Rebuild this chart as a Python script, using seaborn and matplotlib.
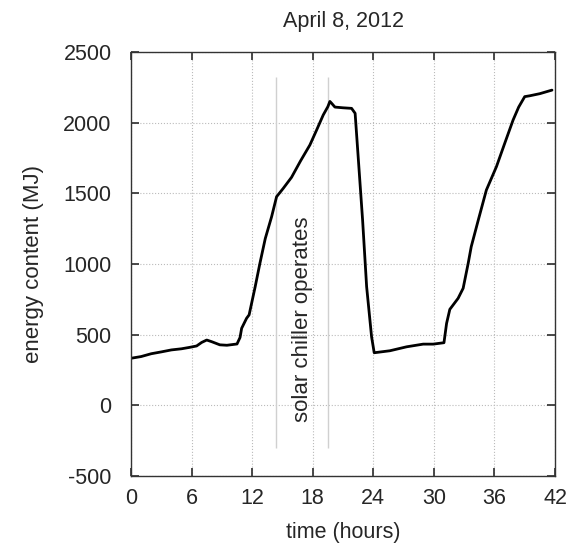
import seaborn as sns
import matplotlib.pyplot as plt
import pandas as pd

# energy content of the storage
time_h = [0.0, 1.0, 2.0, 3.0, 4.0, 5.0, 5.8, 6.5, 7.0, 7.5, 8.0, 8.8, 9.5, 10.5,
          10.8, 10.96, 11.45, 11.7, 12.3, 12.77, 13.3, 13.93, 14.42, 15.08, 15.9,
          16.8, 17.72, 18.4, 19.04, 19.5, 19.7, 19.87, 20.2, 21.0, 21.85, 22.2,
          22.94, 23.34, 23.83, 24.09, 25.64, 27.3, 28.94, 29.93, 31.0, 31.26,
          31.58, 32.4, 32.9, 33.4, 33.7, 34.4, 35.2, 36.2, 37.0, 37.85, 38.4,
          39.0, 39.5, 40.5, 41.5, 41.7]
energy_mj = [333, 345, 365, 378, 392, 400, 410, 420, 445, 462, 450, 428, 425, 434,
             480, 545, 616, 640, 839, 1005, 1180, 1335, 1476, 1535, 1613,
             1730, 1842, 1950, 2054, 2113, 2150, 2137, 2110, 2105, 2101, 2066,
             1311, 839, 485, 372, 386, 414, 433, 433, 443, 580,
             679, 757, 828, 1005, 1122, 1311, 1523, 1689, 1850, 2019, 2110,
             2184, 2190, 2205, 2226, 2230]

chiller_marks = [14.4, 19.5]
mark_low, mark_high = -300, 2320
x_ticks = [0, 6, 12, 18, 24, 30, 36, 42]
y_ticks = [-500, 0, 500, 1000, 1500, 2000, 2500]

sns.set_theme(style="ticks")
plt.rcParams['font.family'] = ['Liberation Sans', 'DejaVu Sans']
plt.rcParams['axes.unicode_minus'] = False

fig = plt.figure(figsize=(5.83, 5.47), dpi=100)
ax = fig.add_axes([0.2247, 0.1298, 0.7273, 0.7752])

df = pd.DataFrame({'time': time_h, 'energy': energy_mj})
ax.vlines(chiller_marks, mark_low, mark_high, color="#d0d0d0", linewidth=1)
sns.lineplot(x="time", y="energy", data=df, color="black", linewidth=2, ax=ax)

ax.text(17.0, 610, "solar chiller operates", rotation=90, ha="center", va="center", fontsize=16)

ax.set_xlim(0, 42)
ax.set_ylim(-500, 2500)
ax.set_xticks(x_ticks)
ax.set_yticks(y_ticks)
ax.grid(True, linestyle=":", color="#bbbbbb", linewidth=0.8)
ax.tick_params(direction="in", top=True, right=True, length=6, labelsize=15.5,
               color="#333333")
ax.tick_params(axis="y", pad=14)
ax.tick_params(axis="x", pad=9)
for s in ax.spines.values():
    s.set_color("#333333")
    s.set_linewidth(1)

ax.set_xlabel("time (hours)", fontsize=15.5, labelpad=9)
ax.set_ylabel("energy content (MJ)", fontsize=16, labelpad=14)
ax.set_title("April 8, 2012", fontsize=15.5, pad=18)

fig.savefig("out.png", dpi=100)
